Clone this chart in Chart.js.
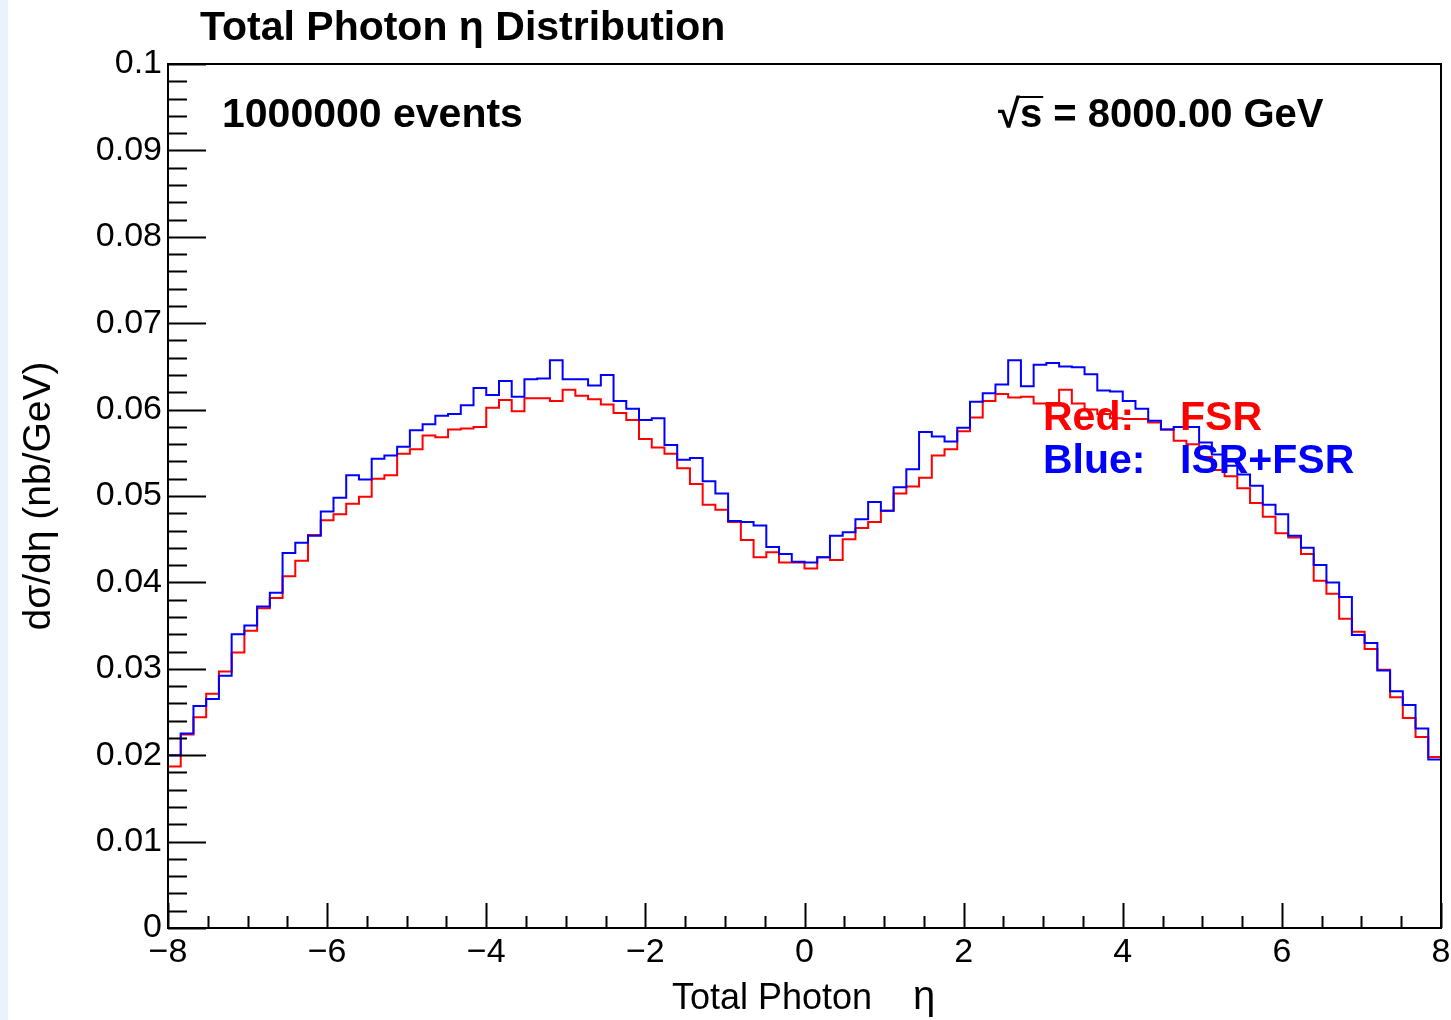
<!DOCTYPE html>
<html>
<head>
<meta charset="utf-8">
<title>Total Photon eta Distribution</title>
<script src="https://cdn.jsdelivr.net/npm/chart.js@4.4.1/dist/chart.umd.min.js"></script>
<style>
  html, body { margin: 0; padding: 0; background: #fff; }
  canvas { display: block; }
</style>
</head>
<body>
<canvas id="eta-chart" width="1451" height="1020"></canvas>
<script>
// histogram range: 100 bins from -8 to 8
const xMin = -8;
const xMax = 8;

// Red: FSR only
const fsrValues = [
  0.0187, 0.0224, 0.0244, 0.0271, 0.0297, 0.0319, 0.0344, 0.0370, 0.0382, 0.0407,
  0.0425, 0.0455, 0.0472, 0.0479, 0.0491, 0.0499, 0.0520, 0.0524, 0.0549, 0.0554,
  0.0570, 0.0568, 0.0577, 0.0578, 0.0580, 0.0602, 0.0611, 0.0598, 0.0613, 0.0613,
  0.0610, 0.0623, 0.0616, 0.0612, 0.0606, 0.0596, 0.0588, 0.0566, 0.0556, 0.0549,
  0.0532, 0.0514, 0.0490, 0.0484, 0.0470, 0.0449, 0.0429, 0.0435, 0.0423, 0.0423,
  0.0416, 0.0429, 0.0426, 0.0450, 0.0463, 0.0470, 0.0483, 0.0503, 0.0511, 0.0521,
  0.0547, 0.0554, 0.0575, 0.0591, 0.0610, 0.0618, 0.0614, 0.0615, 0.0607, 0.0605,
  0.0623, 0.0607, 0.0600, 0.0595, 0.0590, 0.0589, 0.0589, 0.0585, 0.0577, 0.0564,
  0.0560, 0.0545, 0.0530, 0.0523, 0.0509, 0.0492, 0.0476, 0.0457, 0.0452, 0.0433,
  0.0402, 0.0387, 0.0358, 0.0343, 0.0323, 0.0299, 0.0267, 0.0243, 0.0221, 0.0198
];

// Blue: ISR+FSR
const isrFsrValues = [
  0.0200, 0.0225, 0.0257, 0.0265, 0.0292, 0.0340, 0.0350, 0.0372, 0.0388, 0.0434,
  0.0446, 0.0454, 0.0482, 0.0498, 0.0524, 0.0519, 0.0543, 0.0547, 0.0557, 0.0576,
  0.0583, 0.0593, 0.0595, 0.0605, 0.0625, 0.0617, 0.0633, 0.0615, 0.0635, 0.0636,
  0.0657, 0.0635, 0.0635, 0.0628, 0.0640, 0.0610, 0.0601, 0.0588, 0.0590, 0.0559,
  0.0542, 0.0544, 0.0517, 0.0503, 0.0471, 0.0470, 0.0466, 0.0441, 0.0433, 0.0424,
  0.0423, 0.0429, 0.0454, 0.0458, 0.0473, 0.0493, 0.0483, 0.0510, 0.0531, 0.0574,
  0.0569, 0.0563, 0.0579, 0.0609, 0.0619, 0.0629, 0.0657, 0.0627, 0.0652, 0.0654,
  0.0650, 0.0649, 0.0641, 0.0622, 0.0621, 0.0610, 0.0601, 0.0587, 0.0577, 0.0580,
  0.0580, 0.0562, 0.0548, 0.0535, 0.0525, 0.0512, 0.0490, 0.0479, 0.0454, 0.0440,
  0.0420, 0.0400, 0.0383, 0.0339, 0.0330, 0.0298, 0.0274, 0.0258, 0.0231, 0.0195
];

const xTickValues = [-8, -6, -4, -2, 0, 2, 4, 6, 8];
const yTickValues = [0, 0.01, 0.02, 0.03, 0.04, 0.05, 0.06, 0.07, 0.08, 0.09, 0.1];

const FONT = '"Liberation Sans", Arial, Helvetica, sans-serif';

// bin contents -> points on the bin edges (last edge repeats the last bin)
function histPoints(values) {
  const w = (xMax - xMin) / values.length;
  const pts = values.map((v, i) => ({ x: xMin + i * w, y: v }));
  pts.push({ x: xMax, y: values[values.length - 1] });
  return pts;
}

function minus(v) {
  return v < 0 ? '\u2212' + Math.abs(v) : String(v);
}

// ROOT-like frame, inward ticks and the text boxes
const rootStyle = {
  id: 'rootStyle',
  beforeDraw(chart) {
    const ctx = chart.ctx;
    ctx.save();
    ctx.fillStyle = '#ffffff';
    ctx.fillRect(0, 0, chart.width, chart.height);
    ctx.fillStyle = '#eaf3fc';
    ctx.fillRect(0, 0, 8, chart.height);
    ctx.restore();
  },
  afterDraw(chart) {
    const ctx = chart.ctx;
    const a = chart.chartArea;
    const xs = chart.scales.x;
    const ys = chart.scales.y;
    ctx.save();
    ctx.strokeStyle = '#000';
    ctx.lineWidth = 2;
    ctx.strokeRect(a.left, a.top, a.right - a.left, a.bottom - a.top);

    ctx.beginPath();
    for (let k = 0; k <= 50; k++) {
      const py = Math.round(ys.getPixelForValue(k * 0.002)) + 0.5;
      const len = k % 5 === 0 ? 38 : 19;
      ctx.moveTo(a.left, py);
      ctx.lineTo(a.left + len, py);
    }
    for (let k = 0; k <= 32; k++) {
      const px = Math.round(xs.getPixelForValue(xMin + k * 0.5)) + 0.5;
      const len = k % 4 === 0 ? 25 : 12;
      ctx.moveTo(px, a.bottom);
      ctx.lineTo(px, a.bottom - len);
    }
    ctx.stroke();

    ctx.fillStyle = '#000';
    ctx.textBaseline = 'alphabetic';
    ctx.textAlign = 'left';
    ctx.font = 'bold 41px ' + FONT;
    ctx.fillText('Total Photon \u03b7 Distribution', 200, 40);
    ctx.fillText('1000000 events', 222, 127);

    // sqrt(s) with a bar over the s
    const sx = 998;
    ctx.font = 'bold 40px ' + FONT;
    ctx.fillText('\u221as = 8000.00 GeV', sx, 127);
    const wRoot = ctx.measureText('\u221a').width;
    const wRootS = ctx.measureText('\u221as').width;
    ctx.lineWidth = 2;
    ctx.beginPath();
    ctx.moveTo(sx + wRoot - 3, 97);
    ctx.lineTo(sx + wRootS + 1, 97);
    ctx.stroke();

    ctx.font = 'bold 41px ' + FONT;
    ctx.fillStyle = '#ff0000';
    ctx.fillText('Red:', 1043, 430);
    ctx.fillText('FSR', 1180, 430);
    ctx.fillStyle = '#0000ff';
    ctx.fillText('Blue:', 1043, 473);
    ctx.fillText('ISR+FSR', 1180, 473);

    // axis titles
    ctx.fillStyle = '#000';
    ctx.font = '36px ' + FONT;
    ctx.fillText('Total Photon', 672, 1009);
    ctx.font = '40px ' + FONT;
    ctx.fillText('\u03b7', 913, 1009);
    ctx.font = '39px ' + FONT;
    ctx.textAlign = 'center';
    ctx.translate(50, (a.top + a.bottom) / 2);
    ctx.rotate(-Math.PI / 2);
    ctx.fillText('d\u03c3/d\u03b7 (nb/GeV)', 0, 0);
    ctx.restore();
  }
};

new Chart(document.getElementById('eta-chart'), {
  type: 'line',
  data: {
    datasets: [{
      label: 'ISR+FSR',
      data: histPoints(isrFsrValues),
      borderColor: '#0000ff',
      borderWidth: 2,
      stepped: 'before',
      pointRadius: 0,
      fill: false
    }, {
      label: 'FSR',
      data: histPoints(fsrValues),
      borderColor: '#ff0000',
      borderWidth: 2,
      stepped: 'before',
      pointRadius: 0,
      fill: false
    }]
  },
  options: {
    responsive: false,
    animation: false,
    devicePixelRatio: 1,
    layout: { padding: { top: 64, right: 10, left: 0, bottom: 0 } },
    plugins: {
      legend: { display: false },
      tooltip: { enabled: false }
    },
    scales: {
      x: {
        type: 'linear',
        min: xMin,
        max: xMax,
        grid: { display: false, drawTicks: false },
        border: { display: false },
        afterBuildTicks: s => { s.ticks = xTickValues.map(v => ({ value: v })); },
        ticks: {
          color: '#000',
          font: { family: FONT, size: 34 },
          padding: 4,
          maxRotation: 0,
          autoSkip: false,
          callback: v => minus(v)
        },
        afterFit: s => {
          s.height = 92;
          s.paddingLeft = 0;
          s.paddingRight = 0;
        }
      },
      y: {
        min: 0,
        max: 0.1,
        grid: { display: false, drawTicks: false },
        border: { display: false },
        afterBuildTicks: s => { s.ticks = yTickValues.map(v => ({ value: v })); },
        ticks: {
          color: '#000',
          font: { family: FONT, size: 34 },
          padding: 6,
          autoSkip: false,
          callback: v => (v === 0 ? '0' : String(parseFloat(v.toFixed(2))))
        },
        afterFit: s => {
          s.width = 168;
          s.paddingTop = 0;
          s.paddingBottom = 0;
        }
      }
    }
  },
  plugins: [rootStyle]
});
</script>
</body>
</html>
